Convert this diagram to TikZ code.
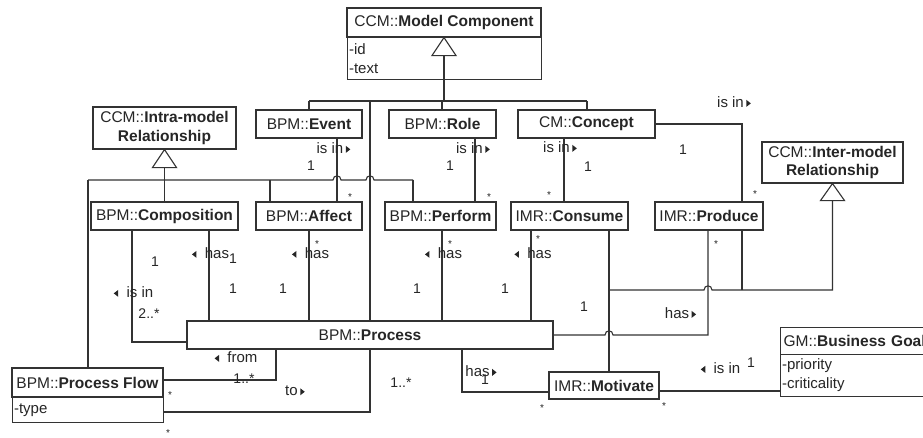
\documentclass[tikz,border=0pt]{standalone}
\usepackage{fontspec}
\usetikzlibrary{calc}
\setmainfont{Liberation Sans}
\newcommand\rtri{\tikz[baseline=0pt]\fill[black!85] (0pt,0.5pt) -- (0pt,7.5pt) -- (4.5pt,4pt) -- cycle;}
\newcommand\ltri{\tikz[baseline=0pt]\fill[black!85] (4.5pt,0.5pt) -- (4.5pt,7.5pt) -- (0pt,4pt) -- cycle;}
\begin{document}
\begin{tikzpicture}[x=1pt,y=-1pt,
  every node/.style={text=black!85},
  cls/.style={draw=black!80, line width=1.1pt, inner sep=0pt, font=\fontsize{15.5}{18.5}\selectfont, align=center},
  attr/.style={draw=black!80, line width=1.1pt, inner xsep=1.5pt, inner ysep=0pt, font=\fontsize{15}{19}\selectfont, align=left, anchor=north west},
  lbl/.style={inner sep=0pt, font=\fontsize{15}{18}\selectfont},
  mult/.style={inner sep=0pt, font=\fontsize{14}{16}\selectfont},
  star/.style={inner sep=0pt, font=\fontsize{10}{10}\selectfont},
  conn/.style={draw=black!80, line width=1.1pt},
  gen/.style={draw=black!80, line width=1.1pt, fill=white},
]
\clip (0,0) rectangle (923,437);
\useasboundingbox (0,0) rectangle (923,437);
\fill[white] (0,0) rectangle (923,437);

% ---------- classes ----------
\node[cls, minimum width=194, minimum height=29] (mc) at (444,22.5) {CCM::\textbf{Model Component}};
\node[attr, text width=191, minimum height=42] (mca) at (347,37) {-id\\-text};

\node[cls, minimum width=143, minimum height=42] (intra) at (164.5,128) {CCM::\textbf{Intra-model}\\\textbf{Relationship}};
\node[cls, minimum width=106, minimum height=28] (event) at (309,124) {BPM::\textbf{Event}};
\node[cls, minimum width=107, minimum height=28] (role) at (442.5,124) {BPM::\textbf{Role}};
\node[cls, minimum width=137, minimum height=28] (concept) at (586.5,124) {CM::\textbf{Concept}};
\node[cls, minimum width=141, minimum height=41] (inter) at (832.5,162.5) {CCM::\textbf{Inter-model}\\\textbf{Relationship}};

\node[cls, minimum width=147, minimum height=28] (comp) at (164.5,216) {BPM::\textbf{Composition}};
\node[cls, minimum width=106, minimum height=28] (affect) at (309,216) {BPM::\textbf{Affect}};
\node[cls, minimum width=111, minimum height=28] (perform) at (440.5,216) {BPM::\textbf{Perform}};
\node[cls, minimum width=117, minimum height=28] (consume) at (569.5,216) {IMR::\textbf{Consume}};
\node[cls, minimum width=108, minimum height=28] (produce) at (709,216) {IMR::\textbf{Produce}};

\node[cls, minimum width=366, minimum height=28] (process) at (370,335) {BPM::\textbf{Process}};

\node[cls, minimum width=151, minimum height=29] (pflow) at (87.5,382.5) {BPM::\textbf{Process Flow}};
\node[attr, text width=148, minimum height=25] (pflowa) at (12,397) {-type};

\node[cls, minimum width=110, minimum height=27] (motivate) at (604,385.5) {IMR::\textbf{Motivate}};

\node[cls, minimum height=27, text width=150, align=left, inner xsep=3pt, anchor=north west] (goal) at (780,327) {GM::\textbf{Business Goal}};
\node[attr, text width=153, minimum height=42] (goala) at (780,354) {-priority\\-criticality};

% ---------- named coordinates ----------
\coordinate (x88) at (88,0);
\coordinate (x132) at (132,0);
\coordinate (x209) at (209,0);
\coordinate (x270) at (270,0);
\coordinate (x276) at (276,0);
\coordinate (x309) at (309,0);
\coordinate (x337) at (337,0);
\coordinate (x370) at (370,0);
\coordinate (x413) at (413,0);
\coordinate (x442) at (442,0);
\coordinate (x444) at (444,0);
\coordinate (x462) at (462,0);
\coordinate (x475) at (475,0);
\coordinate (x531) at (531,0);
\coordinate (x564) at (564,0);
\coordinate (x587) at (587,0);
\coordinate (x609) at (609,0);
\coordinate (x708) at (708,0);
\coordinate (x742) at (742,0);
\coordinate (y101) at (0,101);
\coordinate (y180) at (0,180);
\coordinate (y290) at (0,290);
\coordinate (y335) at (0,335);
\coordinate (y342) at (0,342);
\coordinate (y380) at (0,380);
\coordinate (y391) at (0,391);
\coordinate (y392) at (0,392);
\coordinate (y412) at (0,412);

% ---------- generalisation: Model Component ----------
\coordinate (mcbase) at ($(mc.south)+(0,18)$);
\draw[conn] (mcbase) -- (x444 |- y101);
\draw[conn] (x309 |- y101) -- (x587 |- y101);
\draw[conn] (x309 |- y101) -- (x309 |- event.north);
\draw[conn] (x442 |- y101) -- (x442 |- role.north);
\draw[conn] (x587 |- y101) -- (x587 |- concept.north);
\draw[conn] (x370 |- y101) -- (x370 |- process.north);
\draw[gen] (mc.south) -- ++(-12,18) -- ++(24,0) -- cycle;

% ---------- generalisation: Intra-model ----------
\coordinate (inbase) at ($(intra.south)+(0,18)$);
\draw[conn] (inbase) -- (inbase |- y180);
\draw[conn] (x88 |- y180) -- (333,180) .. controls (333,174.5) and (341,174.5) .. (341,180)
   -- (366,180) .. controls (366,174.5) and (374,174.5) .. (374,180) -- (x413 |- y180);
\draw[conn] (x88 |- y180) -- (x88 |- pflow.north);
\draw[conn] (comp.north |- y180) -- (comp.north);
\draw[conn] (x270 |- y180) -- (x270 |- affect.north);
\draw[conn] (x413 |- y180) -- (x413 |- perform.north);
\draw[gen] (intra.south) -- ++(-12,18) -- ++(24,0) -- cycle;

% ---------- generalisation: Inter-model ----------
\coordinate (itbase) at ($(inter.south)+(0,17)$);
\draw[conn] (itbase) -- (itbase |- y290) -- (712,290) .. controls (712,284.5) and (704,284.5) .. (704,290) -- (x609 |- y290);
\draw[conn] (x742 |- produce.south) -- (x742 |- y290);
\draw[conn] (x609 |- consume.south) -- (x609 |- motivate.north);
\draw[gen] (inter.south) -- ++(-12,17) -- ++(24,0) -- cycle;

% ---------- associations ----------
\draw[conn] (x337 |- event.south) -- (x337 |- affect.north);
\draw[conn] (x475 |- role.south) -- (x475 |- perform.north);
\draw[conn] (x564 |- concept.south) -- (x564 |- consume.north);
\draw[conn] (concept.east) -- (x742 |- concept.east) -- (x742 |- produce.north);
\draw[conn] (x209 |- comp.south) -- (x209 |- process.north);
\draw[conn] (x309 |- affect.south) -- (x309 |- process.north);
\draw[conn] (x442 |- perform.south) -- (x442 |- process.north);
\draw[conn] (x531 |- consume.south) -- (x531 |- process.north);
\draw[conn] (x132 |- comp.south) -- (x132 |- y342) -- (process.west |- y342);
\draw[conn] (process.east) -- (605,335) .. controls (605,329.5) and (613,329.5) .. (613,335)
   -- (x708 |- y335) -- (x708 |- produce.south);
\draw[conn] (pflow.east |- y380) -- (x276 |- y380) -- (x276 |- process.south);
\draw[conn] (pflowa.east |- y412) -- (x370 |- y412) -- (x370 |- process.south);
\draw[conn] (x462 |- process.south) -- (x462 |- y392) -- (motivate.west |- y392);
\draw[conn] (motivate.east |- y391) -- (goala.west |- y391);

% ---------- role labels ----------
\node[lbl] (l1) at (333.5,148) {is in\,\rtri};
\node[lbl] (l2) at (473,148) {is in\,\rtri};
\node[lbl] (l3) at (560,147) {is in\,\rtri};
\node[lbl] (l4) at (734,102) {is in\,\rtri};
\node[lbl] (l5) at (133.5,292) {\ltri\ \ is in};
\node[lbl] (l6) at (210.5,253) {\ltri\ \ has};
\node[lbl] (l7) at (310.5,253) {\ltri\ \ has};
\node[lbl] (l8) at (443.5,253) {\ltri\ \ has};
\node[lbl] (l9) at (533,253) {\ltri\ \ has};
\node[lbl] (l10) at (236,357) {\ltri\ \ from};
\node[lbl] (l11) at (295,391) {to\,\rtri};
\node[lbl] (l12) at (680.5,313) {has\,\rtri};
\node[lbl] (l13) at (481,371) {has\,\rtri};
\node[lbl] (l14) at (720.5,368) {\ltri\ \ is in};

% ---------- multiplicities ----------
\node[mult] (m1) at (311,166) {1};
\node[mult] (m2) at (450,166) {1};
\node[mult] (m3) at (588,167) {1};
\node[mult] (m4) at (683,150) {1};
\node[mult] (m5) at (155,262) {1};
\node[mult] (m6) at (233,259) {1};
\node[mult] (m7) at (233,289) {1};
\node[mult] (m8) at (283,289) {1};
\node[mult] (m9) at (417,289) {1};
\node[mult] (m10) at (505,289) {1};
\node[mult] (m11) at (584,307) {1};
\node[mult] (m12) at (485,380) {1};
\node[mult] (m13) at (751,363) {1};
\node[mult] (m14) at (149,314) {2..*};
\node[mult] (m15) at (244,379) {1..*};
\node[mult] (m16) at (401,383) {1..*};
\node[star] (s1) at (350,197) {*};
\node[star] (s2) at (489,197) {*};
\node[star] (s3) at (549,195) {*};
\node[star] (s4) at (755,194) {*};
\node[star] (s5) at (317,244) {*};
\node[star] (s6) at (450,244) {*};
\node[star] (s7) at (538,239) {*};
\node[star] (s8) at (716,244) {*};
\node[star] (s9) at (170,395) {*};
\node[star] (s10) at (168,433) {*};
\node[star] (s11) at (542,408) {*};
\node[star] (s12) at (664,406) {*};
\end{tikzpicture}
\end{document}
